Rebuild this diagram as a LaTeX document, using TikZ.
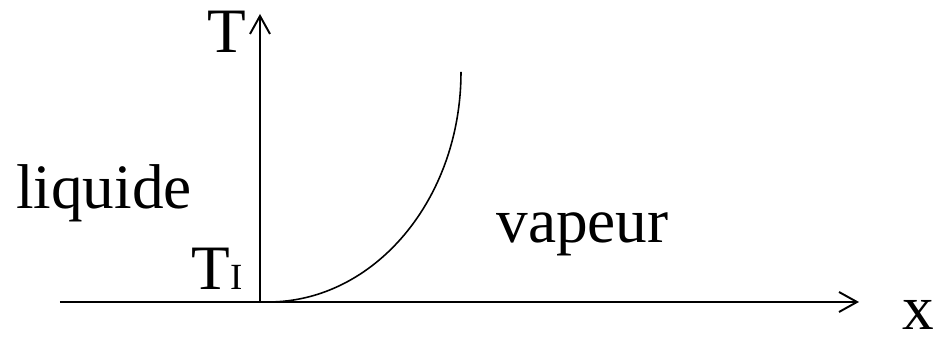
\documentclass[tikz,border=0pt]{standalone}
\usepackage{fontspec}
\setmainfont{Liberation Serif}
\usetikzlibrary{arrows.meta}

\begin{document}
\begin{tikzpicture}[every node/.style={font=\fontsize{36}{40}\selectfont, inner sep=0pt}]
    \useasboundingbox (-5.2,-0.78) rectangle (13.58,6.04);
    % Axes
    \coordinate (origin) at (0,0);
    \coordinate (xstart) at (-4.0,0);
    \coordinate (xend) at (11.98,0);
    \coordinate (yend) at (0,5.76);
    \draw[-{Straight Barb[length=0.36cm, width=0.4cm]}, line width=1.1pt] (xstart) -- (xend);
    \draw[-{Straight Barb[length=0.36cm, width=0.4cm]}, line width=1.1pt] (origin) -- (yend);
    \node[anchor=base] (tlabel) at (-0.67,4.98) {T};
    \node[anchor=base west] (xlabel) at (12.84,-0.56) {x};

    % Courbe
    \draw[line width=0.9pt] (0.16,0) arc[start angle=270, end angle=360, x radius=3.86, y radius=4.6];

    % Phases
    \node[anchor=base] (liquide) at (-3.12,1.86) {liquide};
    \node[anchor=base] (vapeur) at (6.45,1.18) {vapeur};
    \node[anchor=base] (ti) at (-0.86,0.24) {T{\fontsize{21}{23}\selectfont I}};
\end{tikzpicture}
\end{document}
